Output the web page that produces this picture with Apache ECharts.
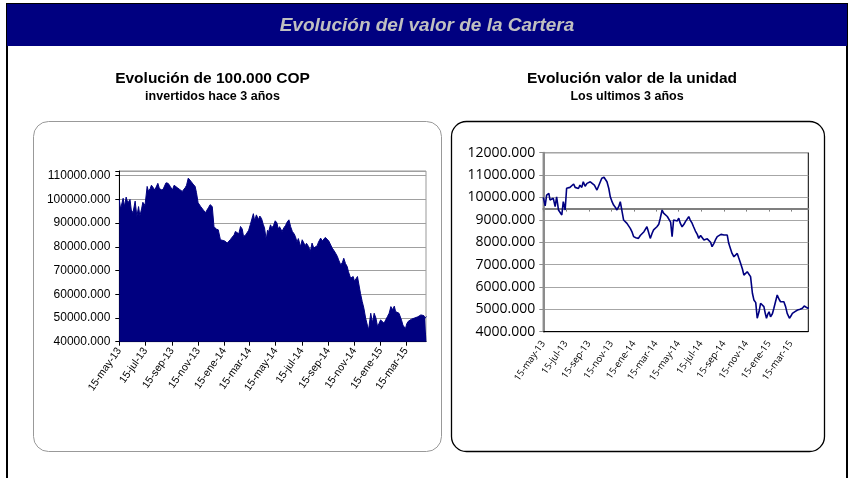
<!DOCTYPE html>
<html>
<head>
<meta charset="utf-8">
<script src="https://cdn.jsdelivr.net/npm/echarts@6/dist/echarts.min.js"></script>
<style>
html,body{margin:0;padding:0;background:#fff;}
#chart{width:854px;height:478px;}
</style>
</head>
<body>
<div id="chart"></div>
<script>
// ---------- DATA ----------
const startDate = '2013-05-15';
const endDate = '2015-05-01';
const tickDates = ['2013-05-15','2013-07-15','2013-09-15','2013-11-15','2014-01-15','2014-03-15','2014-05-15','2014-07-15','2014-09-15','2014-11-15','2015-01-15','2015-03-15'];
const tickLabels = ['15-may-13','15-jul-13','15-sep-13','15-nov-13','15-ene-14','15-mar-14','15-may-14','15-jul-14','15-sep-14','15-nov-14','15-ene-15','15-mar-15'];

// Left chart: value of 100.000 COP invested — [days since start date, value]
const leftPoints = [
  [0,99900],[3,96000],[9,100500],[12,97000],[16,101000],[20,98500],[25,100000],[28,95500],[32,94400],[37,99300],
  [41,92800],[45,97000],[48,93000],[52,96000],[55,98800],[60,97500],[65,105500],[68,103500],[72,104500],[75,106000],
  [79,106500],[83,104000],[86,104500],[90,106800],[93,105000],[97,104000],[102,104200],[106,104500],[109,107000],[114,106800],
  [119,105500],[124,104000],[128,106000],[131,106500],[135,105000],[141,104200],[147,103400],[150,104000],[154,105000],[157,106000],
  [161,109000],[164,108500],[168,107500],[172,106500],[177,105500],[180,103000],[184,98600],[190,97000],[196,95600],[201,94400],
  [208,96500],[212,97800],[217,97000],[221,88600],[226,87500],[231,87200],[236,83000],[240,82250],[246,82500],[252,81600],
  [259,83000],[263,84000],[268,85000],[271,86500],[275,87200],[279,85500],[283,88600],[287,87500],[290,84400],[295,85000],
  [299,85800],[302,87000],[306,89500],[313,94000],[316,91000],[320,93500],[325,91500],[328,93000],[332,92000],[336,89500],
  [339,88000],[343,83000],[346,87000],[348,86000],[353,89300],[356,88000],[360,89000],[364,91000],[368,90100],[371,87500],
  [374,88500],[380,86500],[384,88000],[388,89000],[392,90500],[396,91400],[400,88500],[404,86500],[408,85500],[411,84400],
  [415,82000],[418,83500],[423,80100],[427,83000],[431,82250],[434,80500],[437,81500],[442,80100],[446,78000],[450,81600],
  [454,79500],[458,78700],[462,80500],[465,82000],[470,83700],[474,82500],[477,83000],[481,84000],[485,83500],[489,82500],
  [493,83000],[497,79500],[501,78500],[505,77300],[509,76000],[512,74500],[517,72400],[521,73500],[524,75200],[528,73000],
  [532,71700],[535,69500],[540,66800],[546,67500],[549,65500],[552,66000],[556,67500],[559,66800],[563,60400],[567,57000],
  [571,54100],[575,50000],[579,47000],[582,45000],[587,52000],[591,48000],[595,52000],[599,50000],[603,46300],[607,45500],
  [610,49200],[614,50000],[618,47800],[622,48500],[626,50600],[630,52000],[634,54800],[638,53500],[642,55000],[645,52700],
  [649,53000],[653,52000],[656,51500],[659,49000],[662,47000],[665,46300],[668,45500],[671,47500],[674,48500],[677,49200],
  [682,49500],[688,49900],[692,50500],[697,50500],[700,50000],[704,51300],[708,51500],[711,51000],[714,50000],[717,50600]
];

// Right chart: unit value — [days since start date, value]
const rightPoints = [
  [0,10000],[5,9620],[9,10100],[15,10180],[18,9890],[22,9950],[27,9960],[32,9590],[36,10030],[41,9440],
  [45,9510],[50,9215],[54,9810],[59,9440],[63,10410],[68,10350],[72,10450],[77,10400],[82,10600],[86,10450],
  [90,10500],[95,10400],[99,10550],[104,10450],[108,10700],[113,10500],[118,10630],[122,10550],[127,10700],[132,10650],
  [138,10550],[145,10330],[150,10400],[158,10860],[164,10900],[168,10800],[172,10700],[177,10400],[181,10030],[186,9800],
  [190,9660],[195,9550],[199,9440],[204,9600],[208,9810],[212,9740],[217,8990],[222,8950],[226,8840],[235,8620],
  [240,8450],[244,8250],[250,8200],[257,8170],[262,8300],[267,8320],[272,8470],[276,8550],[280,8690],[284,8470],
  [289,8170],[294,8400],[298,8550],[303,8600],[307,8690],[312,8800],[316,9070],[321,9440],[325,9300],[330,9215],
  [335,9150],[339,9070],[344,8900],[348,8250],[352,8990],[357,9000],[362,8950],[366,9070],[370,8850],[375,8690],
  [380,8800],[384,8920],[388,9000],[393,9140],[397,8990],[402,8850],[406,8690],[411,8500],[416,8350],[420,8170],
  [425,8300],[429,8250],[434,8100],[438,8020],[443,8150],[447,8100],[452,8000],[456,7800],[461,7950],[465,8100],
  [470,8250],[474,8320],[480,8350],[488,8320],[493,8330],[497,8320],[501,7950],[506,7700],[510,7500],[515,7350],
  [519,7280],[524,7500],[528,7300],[533,7060],[538,6800],[542,6530],[547,6600],[551,6680],[556,6600],[560,6460],
  [565,5720],[569,5420],[574,5300],[578,4600],[583,4900],[587,5270],[591,5200],[596,5120],[600,4800],[603,4600],
  [607,4800],[610,4890],[614,4670],[619,4800],[623,5050],[628,5000],[632,5640],[637,5450],[641,5340],[646,5400],
  [650,5340],[655,5100],[659,4820],[665,4600],[669,4700],[673,4820],[680,4900],[687,4970],[694,5000],[700,5050],
  [705,5150],[709,5120],[714,5050],[717,5080]
];

// ---------- HELPERS ----------
const DAY = 86400000;
const t0 = Date.parse(startDate + 'T00:00:00Z');
const dayOf = s => Math.round((Date.parse(s + 'T00:00:00Z') - t0) / DAY);
const tickDays = tickDates.map(dayOf);
const maxDay = dayOf(endDate);
const labelFor = v => { const i = tickDays.indexOf(Math.round(v)); return i >= 0 ? tickLabels[i] : ''; };

const NAVY = '#000080';
const ARIAL = '"Liberation Sans", Arial, sans-serif';
const OPEN = '"Open Sans", "Liberation Sans", sans-serif';

const chart = echarts.init(document.getElementById('chart'), null, {renderer: 'canvas'});

chart.setOption({
  animation: false,
  backgroundColor: '#fff',
  graphic: [
    {type: 'rect', z: 0, shape: {x: 7, y: 4, width: 840, height: 480}, style: {fill: 'none', stroke: '#000', lineWidth: 2}},
    {type: 'rect', z: 1, shape: {x: 7, y: 4, width: 840, height: 42}, style: {fill: NAVY}},
    {type: 'text', z: 2, x: 427, y: 26, style: {text: 'Evolución del valor de la Cartera', font: 'italic bold 19px ' + ARIAL, fill: '#c0c0c0', textAlign: 'center', textVerticalAlign: 'middle'}},
    {type: 'rect', z: 0, shape: {x: 33.5, y: 121.5, width: 408, height: 330, r: 15}, style: {fill: 'none', stroke: '#999', lineWidth: 1}},
    {type: 'rect', z: 0, shape: {x: 451.5, y: 121.5, width: 373, height: 330, r: 15}, style: {fill: 'none', stroke: '#000', lineWidth: 1.3}},
    {type: 'text', z: 2, x: 212.5, y: 79, style: {text: 'Evolución de 100.000 COP', font: 'bold 15.5px ' + ARIAL, fill: '#000', textAlign: 'center', textVerticalAlign: 'middle'}},
    {type: 'text', z: 2, x: 212.5, y: 97, style: {text: 'invertidos hace 3 años', font: 'bold 12.5px ' + ARIAL, fill: '#000', textAlign: 'center', textVerticalAlign: 'middle'}},
    {type: 'text', z: 2, x: 632, y: 79, style: {text: 'Evolución valor de la unidad', font: 'bold 15.5px ' + ARIAL, fill: '#000', textAlign: 'center', textVerticalAlign: 'middle'}},
    {type: 'text', z: 2, x: 627, y: 97, style: {text: 'Los ultimos 3 años', font: 'bold 12.5px ' + ARIAL, fill: '#000', textAlign: 'center', textVerticalAlign: 'middle'}}
  ],
  grid: [
    {left: 119.3, right: 428, top: 171, bottom: 136.3, show: true, borderColor: '#999', borderWidth: 1, backgroundColor: 'transparent'},
    {left: 543.3, right: 45.7, top: 152.7, bottom: 146.3, show: true, borderColor: '#000', borderWidth: 1, backgroundColor: 'transparent'},
    {left: 543.3, right: 45.7, top: 152.7, height: 55.9, show: false}
  ],
  xAxis: [
    {gridIndex: 0, type: 'value', min: 0, max: maxDay,
     axisLine: {show: true, lineStyle: {color: '#000', width: 1}},
     axisTick: {show: true, length: 4, customValues: tickDays, lineStyle: {color: '#000'}},
     axisLabel: {customValues: tickDays, formatter: labelFor, rotate: 55, margin: 7, fontFamily: ARIAL, fontSize: 10.5, color: '#000'},
     splitLine: {show: false}},
    {gridIndex: 1, type: 'value', min: 0, max: maxDay,
     axisLine: {show: true, lineStyle: {color: '#000', width: 1}},
     axisTick: {show: false},
     axisLabel: {customValues: tickDays, formatter: labelFor, rotate: 55, margin: 10, fontFamily: OPEN, fontSize: 9.5, color: '#000'},
     splitLine: {show: false}},
    {gridIndex: 2, type: 'value', min: 0, max: maxDay,
     axisLine: {show: true, lineStyle: {color: '#7f7f7f', width: 2}},
     axisTick: {show: true, length: 3, customValues: tickDays, lineStyle: {color: '#7f7f7f'}},
     axisLabel: {show: false},
     splitLine: {show: false}}
  ],
  yAxis: [
    {gridIndex: 0, type: 'value', min: 40000, max: 112000, interval: 10000,
     axisLine: {show: true, lineStyle: {color: '#000', width: 1}},
     axisTick: {show: true, length: 4, lineStyle: {color: '#000'}},
     axisLabel: {formatter: v => (v % 10000 ? '' : v.toFixed(3)), fontFamily: ARIAL, fontSize: 12, color: '#000', margin: 9},
     splitLine: {show: true, lineStyle: {color: '#a0a0a0', width: 1}}},
    {gridIndex: 1, type: 'value', min: 4000, max: 12000, interval: 1000,
     axisLine: {show: true, lineStyle: {color: '#8c8c8c', width: 2}},
     axisTick: {show: true, length: 4, lineStyle: {color: '#8c8c8c'}},
     axisLabel: {formatter: v => v.toFixed(3), fontFamily: OPEN, fontSize: 14, color: '#000', margin: 8},
     splitLine: {show: true, lineStyle: {color: '#a6a6a6', width: 1}}},
    {gridIndex: 2, type: 'value', show: false, min: 0, max: 1}
  ],
  series: [
    {type: 'line', xAxisIndex: 0, yAxisIndex: 0, data: leftPoints, symbol: 'none', smooth: false,
     lineStyle: {color: NAVY, width: 1}, areaStyle: {color: NAVY, opacity: 1, origin: 'start'}, z: 3},
    {type: 'line', xAxisIndex: 1, yAxisIndex: 1, data: rightPoints, symbol: 'none', smooth: false,
     lineStyle: {color: NAVY, width: 1.6}, z: 3}
  ]
});
</script>
</body>
</html>
